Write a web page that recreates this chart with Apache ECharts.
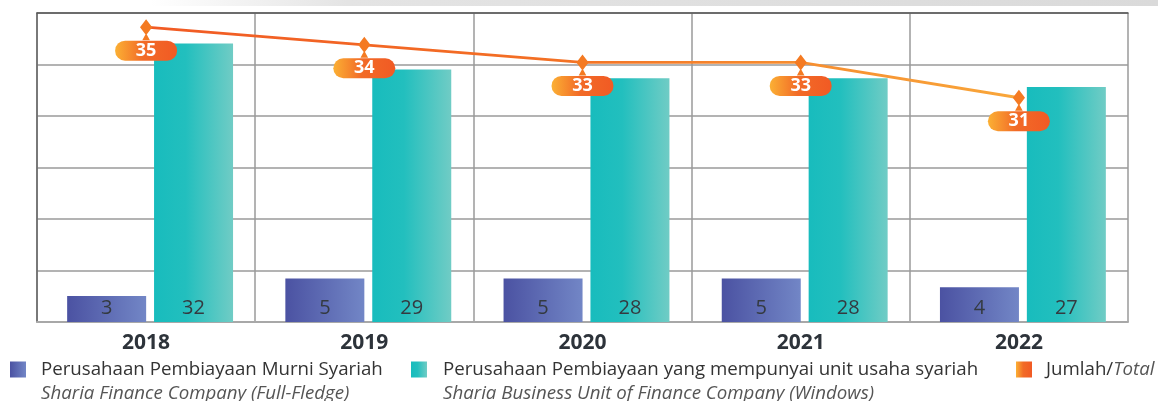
<!DOCTYPE html>
<html>
<head>
<meta charset="utf-8">
<title>Perusahaan Pembiayaan Syariah</title>
<script src="https://cdn.jsdelivr.net/npm/echarts@6/dist/echarts.min.js"></script>
<style>
  html, body { margin: 0; padding: 0; background: #ffffff; }
  #chart { width: 1158px; height: 401px; }
</style>
</head>
<body>
<div id="chart"></div>
<script>
// Categories and values
const years = ['2018', '2019', '2020', '2021', '2022'];
const fullFledge = [3, 5, 5, 5, 4];
const windows = [32, 29, 28, 28, 27];
const totals = [35, 34, 33, 33, 31];

// Legend texts (first line regular, second line italic)
const nameFull = 'Perusahaan Pembiayaan Murni Syariah';
const nameFullEn = 'Sharia Finance Company (Full-Fledge)';
const nameWin = 'Perusahaan Pembiayaan yang mempunyai unit usaha syariah';
const nameWinEn = 'Sharia Business Unit of Finance Company (Windows)';
const nameTotal = 'Jumlah/';
const nameTotalEn = 'Total';

const FONT = '"Open Sans", "Noto Sans", sans-serif';
const LEGEND_SIZE = 18.7;

function hGrad(stops) {
  return {
    type: 'linear', x: 0, y: 0, x2: 1, y2: 0,
    colorStops: stops.map(s => ({ offset: s[0], color: s[1] }))
  };
}

const purple = hGrad([[0, '#4b52a2'], [1, '#7286c6']]);
const teal = hGrad([[0, '#18bcbd'], [0.4, '#22bfbe'], [1, '#70ccc5']]);
const orange = hGrad([[0, '#fbb034'], [0.45, '#f26b27'], [1, '#f15a24']]);
const lineGrad = hGrad([[0, '#f15a24'], [0.45, '#f36f24'], [1, '#f9a73a']]);

const chart = echarts.init(document.getElementById('chart'), null, { renderer: 'canvas' });

const gridTop = 13, gridBottom = 79;

const option = {
  backgroundColor: '#ffffff',
  animation: false,
  textStyle: { fontFamily: FONT },
  grid: [
    { left: 37, right: 30, top: gridTop, bottom: gridBottom },
    { left: 41, right: 26, top: gridTop, bottom: gridBottom }
  ],
  xAxis: [
    {
      type: 'category', gridIndex: 0, data: years, boundaryGap: true,
      axisLine: { show: true, lineStyle: { color: '#a8a8a8', width: 2 } },
      axisTick: { show: false },
      axisLabel: {
        margin: 11, fontSize: 21, fontWeight: 'bold', color: '#2d333a', fontFamily: FONT
      },
      splitLine: { show: true, lineStyle: { color: '#9a9a9a', width: 1.5 } }
    },
    {
      type: 'category', gridIndex: 1, data: years, show: false
    },
    {
      type: 'category', gridIndex: 0, data: years, position: 'top',
      axisLine: { show: true, lineStyle: { color: '#555555', width: 1.5 } },
      axisTick: { show: false }, axisLabel: { show: false }, splitLine: { show: false }
    }
  ],
  yAxis: [
    {
      type: 'value', gridIndex: 0, min: 0, max: 35.5, interval: 35.5 / 6,
      axisLine: { show: true, lineStyle: { color: '#666666', width: 1.5 } },
      axisTick: { show: false }, axisLabel: { show: false },
      splitLine: { show: true, lineStyle: { color: '#9a9a9a', width: 1.5 } }
    },
    {
      type: 'value', gridIndex: 0, min: 18.3, max: 35.8, show: false,
      splitLine: { show: false }
    },
    {
      type: 'value', gridIndex: 1, min: 0, max: 35.5, show: false,
      splitLine: { show: false }
    }
  ],
  legend: [
    {
      left: 10, top: 360, padding: 0, itemWidth: 16, itemHeight: 16, icon: 'rect',
      data: [{ name: nameFull }],
      textStyle: { fontSize: LEGEND_SIZE, color: '#333333', padding: [0, 0, 0, 10], fontFamily: FONT }
    },
    {
      left: 411, top: 360, padding: 0, itemWidth: 16, itemHeight: 16, icon: 'rect',
      data: [{ name: nameWin }],
      textStyle: { fontSize: LEGEND_SIZE, color: '#333333', padding: [0, 0, 0, 11], fontFamily: FONT }
    },
    {
      left: 1016, top: 360, padding: 0, itemWidth: 16, itemHeight: 16,
      data: [{ name: nameTotal, icon: 'rect', itemStyle: { color: orange } }],
      formatter: () => '{a|' + nameTotal + '}{b|' + nameTotalEn + '}',
      textStyle: {
        padding: [0, 0, 0, 9],
        rich: {
          a: { fontSize: LEGEND_SIZE, color: '#333333', fontFamily: FONT },
          b: { fontSize: LEGEND_SIZE, color: '#555555', fontStyle: 'italic', fontFamily: FONT }
        }
      }
    }
  ],
  graphic: [
    {
      type: 'rect', left: 0, top: 0, z: -1,
      shape: { width: 1158, height: 6 },
      style: { fill: hGrad([[0, '#ffffff'], [0.13, '#ffffff'], [0.3, '#e4e4e4'], [1, '#dadada']]) }
    },
    {
      type: 'text', left: 41, top: 384,
      style: { text: nameFullEn, font: 'italic ' + LEGEND_SIZE + 'px ' + FONT, fill: '#555555' }
    },
    {
      type: 'text', left: 443, top: 384,
      style: { text: nameWinEn, font: 'italic ' + LEGEND_SIZE + 'px ' + FONT, fill: '#555555' }
    }
  ],
  series: [
    {
      name: nameFull, type: 'bar', xAxisIndex: 1, yAxisIndex: 2,
      data: fullFledge, barWidth: 79, barGap: '10%',
      itemStyle: { color: purple },
      label: {
        show: true, position: 'insideBottom', distance: 4,
        fontSize: 20, color: '#343a40', fontFamily: FONT
      }
    },
    {
      name: nameWin, type: 'bar', xAxisIndex: 1, yAxisIndex: 2,
      data: windows, barWidth: 79, barGap: '10%',
      itemStyle: { color: teal },
      label: {
        show: true, position: 'insideBottom', distance: 4,
        fontSize: 20, color: '#343a40', fontFamily: FONT
      }
    },
    {
      name: nameTotal, type: 'line', xAxisIndex: 0, yAxisIndex: 1,
      data: totals, z: 5,
      lineStyle: { color: lineGrad, width: 2.8 },
      // diamond marker with the small pointer of the callout below it
      symbol: 'path://M0,0 L8,8 L0,16 L-8,8 Z M0,14 L5,21 L-5,21 Z',
      symbolSize: [16, 21], symbolKeepAspect: true, symbolOffset: [0, 2.5],
      itemStyle: { color: '#f47a22' },
      label: {
        show: true, position: 'inside', offset: [0, 21],
        width: 62, height: 20, lineHeight: 20, align: 'center', verticalAlign: 'middle',
        backgroundColor: orange, borderRadius: 10,
        fontSize: 18, fontWeight: 'bold', color: '#ffffff', fontFamily: FONT
      }
    }
  ]
};

chart.setOption(option);
</script>
</body>
</html>
